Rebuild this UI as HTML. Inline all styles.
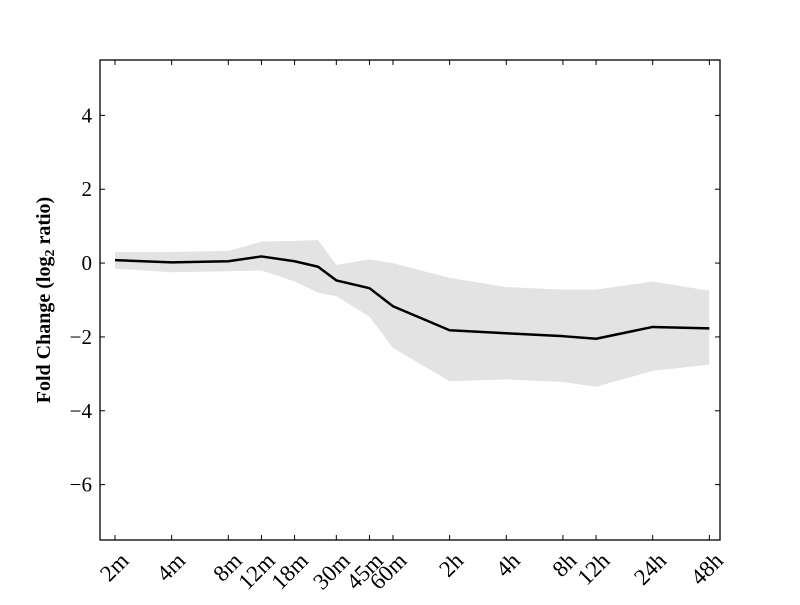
<!DOCTYPE html>
<html><head><meta charset="utf-8"><style>
body{margin:0;background:#fff}
svg text{font-family:"Liberation Serif","DejaVu Serif",serif;fill:#000}
</style></head><body>
<svg id="chart" width="800" height="600">
<rect x="0" y="0" width="800" height="600" fill="#fff"/>
<g id="plot"></g>
<text transform="translate(50,300) rotate(-90)" text-anchor="middle" font-size="20" font-weight="bold">Fold Change (log<tspan font-size="14" dy="4">2</tspan><tspan dy="-4"> ratio)</tspan></text>
</svg>
<script>
const minutes=[2,4,8,12,18,24,30,45,60,120,240,480,720,1440,2880];
const meanVals=[0.08,0.02,0.05,0.18,0.05,-0.1,-0.47,-0.68,-1.17,-1.82,-1.9,-1.98,-2.05,-1.73,-1.77];
const upperVals=[0.3,0.3,0.33,0.58,0.6,0.62,-0.05,0.1,0.0,-0.4,-0.65,-0.72,-0.72,-0.5,-0.75];
const lowerVals=[-0.15,-0.25,-0.22,-0.2,-0.5,-0.8,-0.9,-1.45,-2.3,-3.2,-3.15,-3.22,-3.35,-2.92,-2.75];
const xTickMinutes=[2,4,8,12,18,30,45,60,120,240,480,720,1440,2880];
const xTickLabels=["2m","4m","8m","12m","18m","30m","45m","60m","2h","4h","8h","12h","24h","48h"];
const yTicks=[4,2,0,-2,-4,-6];
const yTickLabels=["4","2","0","\u22122","\u22124","\u22126"];

const L=100,R=720,T=60,B=540;
const xmin=0.735,xmax=11.68,ymin=-7.5,ymax=5.5;
const xs=m=>L+(Math.log2(m)-xmin)/(xmax-xmin)*(R-L);
const ys=v=>B-(v-ymin)/(ymax-ymin)*(B-T);
const NS="http://www.w3.org/2000/svg";
const g=document.getElementById('plot');
function mk(t,a){const e=document.createElementNS(NS,t);for(const k in a)e.setAttribute(k,a[k]);g.appendChild(e);return e;}

let d="M"+minutes.map((m,i)=>xs(m)+","+ys(upperVals[i])).join("L");
for(let i=minutes.length-1;i>=0;i--)d+="L"+xs(minutes[i])+","+ys(lowerVals[i]);
const band=mk('path',{d:d+"Z",fill:"#e3e3e3",stroke:"none"});


const line=mk('polyline',{points:minutes.map((m,i)=>xs(m)+","+ys(meanVals[i])).join(" "),fill:"none",stroke:"#000","stroke-width":2.5,"stroke-linejoin":"round"});


const frame=mk('rect',{x:L,y:T,width:R-L,height:B-T,fill:"none",stroke:"#000","stroke-width":1.3});



xTickMinutes.forEach((m,i)=>{
  const x=xs(m);
  const t1=mk('line',{x1:x,x2:x,y1:B,y2:B-5,stroke:"#000"});
  
  
  const t2=mk('line',{x1:x,x2:x,y1:T,y2:T+5,stroke:"#000"});
  
  
  const ax=x+15,ay=B+22;
  const tx=mk('text',{x:ax,y:ay,"text-anchor":"end","font-size":23,transform:`rotate(-45 ${ax} ${ay})`});
  tx.textContent=xTickLabels[i];
  
  
});
yTicks.forEach((v,i)=>{
  const y=ys(v);
  const t1=mk('line',{x1:L,x2:L+5,y1:y,y2:y,stroke:"#000"});
  
  
  const t2=mk('line',{x1:R,x2:R-5,y1:y,y2:y,stroke:"#000"});
  
  
  const tx=mk('text',{x:L-8,y:y+7,"text-anchor":"end","font-size":21});
  tx.textContent=yTickLabels[i];
  
  
});
</script>
</body></html>
